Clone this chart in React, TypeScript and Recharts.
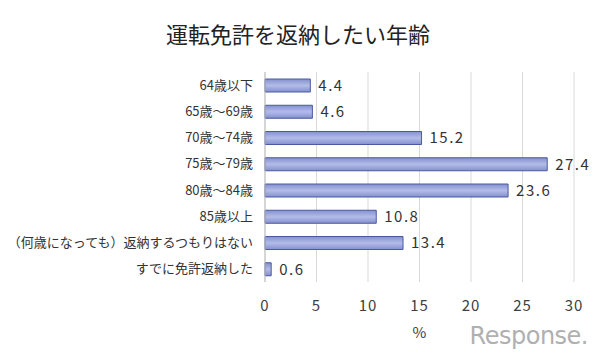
import React from "react";
import {
  BarChart,
  Bar,
  XAxis,
  YAxis,
  CartesianGrid,
} from "recharts";

const categories = [
  "64歳以下",
  "65歳～69歳",
  "70歳～74歳",
  "75歳～79歳",
  "80歳～84歳",
  "85歳以上",
  "（何歳になっても）返納するつもりはない",
  "すでに免許返納した",
];
const values = [4.4, 4.6, 15.2, 27.4, 23.6, 10.8, 13.4, 0.6];
const xTicks = [0, 5, 10, 15, 20, 25, 30];

const data = categories.map((name, i) => ({ name, value: values[i] }));

const font = "'Noto Sans CJK JP', 'Noto Sans', sans-serif";

export default function App() {
  return (
    <div
      style={{
        position: "absolute",
        left: 0,
        top: 0,
        width: 600,
        height: 360,
        background: "#fff",
        fontFamily: font,
      }}
    >
      <svg width={0} height={0} style={{ position: "absolute" }}>
        <defs>
          <linearGradient id="barFill" x1="0" y1="0" x2="0" y2="1">
            <stop offset="0%" stopColor="#8490cf" />
            <stop offset="50%" stopColor="#b3bce8" />
            <stop offset="100%" stopColor="#8490cf" />
          </linearGradient>
        </defs>
      </svg>
      <div
        style={{
          position: "absolute",
          top: 17,
          left: 0,
          width: 596,
          textAlign: "center",
          fontSize: 22,
          color: "#222",
        }}
      >
        運転免許を返納したい年齢
      </div>
      <BarChart
        width={600}
        height={360}
        data={data}
        layout="vertical"
        margin={{ top: 72, right: 26, bottom: 0, left: 0 }}
      >
        <CartesianGrid horizontal={false} stroke="#d9d9d9" />
        <XAxis
          type="number"
          domain={[0, 30]}
          ticks={xTicks}
          axisLine={false}
          tickLine={false}
          tickMargin={12}
          height={78}
          tick={{ fontSize: 15, fill: "#404040", fontFamily: font, letterSpacing: 1 }}
          label={{
            value: "%",
            position: "insideBottom",
            offset: 22,
            fontSize: 15,
            fill: "#404040",
            fontFamily: font,
          }}
        />
        <YAxis
          type="category"
          dataKey="name"
          width={265}
          axisLine={{ stroke: "#bfbfbf" }}
          tickLine={false}
          tickMargin={6}
          interval={0}
          tick={{ fontSize: 13, fill: "#333", fontFamily: font }}
        />
        <Bar
          dataKey="value"
          barSize={13}
          fill="url(#barFill)"
          stroke="#4a5aa0"
          strokeWidth={1}
          isAnimationActive={false}
          label={{
            position: "right",
            offset: 8,
            fontSize: 15,
            fill: "#333",
            fontFamily: font,
            letterSpacing: 1.5,
            formatter: (v: any) => Number(v).toFixed(1),
          }}
        />
      </BarChart>
      <div
        style={{
          position: "absolute",
          right: 12,
          top: 322,
          fontSize: 24,
          color: "#b0b0b0",
          fontFamily: "'DejaVu Sans', sans-serif",
          letterSpacing: -0.5,
        }}
      >
        Response.
      </div>
    </div>
  );
}
